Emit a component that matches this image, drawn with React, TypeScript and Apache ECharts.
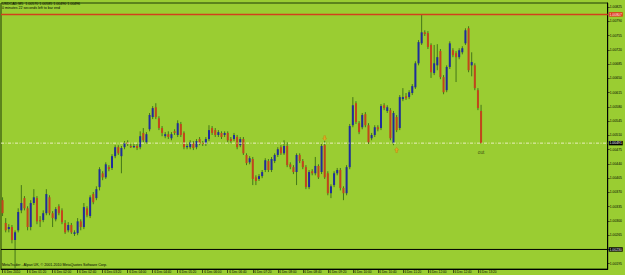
import React, { useEffect, useRef } from "react";
import * as echarts from "echarts";

const titleText = "USDCAD,M5  1.00570 1.00585 1.00490 1.00496";
const subtitleText = "0 minutes 22 seconds left to bar end";
const footerText = "MetaTrader - Alpari UK, \u00a9 2001-2010 MetaQuotes Software Corp.";

const timeLabels = [
  "6 Dec 2010", "6 Dec 01:20", "6 Dec 02:00", "6 Dec 02:40", "6 Dec 03:20",
  "6 Dec 04:00", "6 Dec 04:40", "6 Dec 05:20", "6 Dec 06:00", "6 Dec 06:40",
  "6 Dec 07:20", "6 Dec 08:00", "6 Dec 08:40", "6 Dec 09:20", "6 Dec 10:00",
  "6 Dec 10:40", "6 Dec 11:20", "6 Dec 12:00", "6 Dec 12:40", "6 Dec 13:20",
];
const barsPerLabel = 8;
const emptySlots = 40;

const opens = [
  1.00351, 1.00295, 1.0028, 1.00285, 1.00253, 1.00277, 1.00326, 1.00356, 1.00331, 1.00285,
  1.00344, 1.00356, 1.00302, 1.00302, 1.00319, 1.00358, 1.00319, 1.00304, 1.00336, 1.00326,
  1.00295, 1.00277, 1.0029, 1.00268, 1.0027, 1.00299, 1.00285, 1.00331, 1.00312, 1.00366,
  1.00356, 1.00383, 1.00417, 1.00407, 1.00432, 1.0043, 1.00459, 1.00481, 1.00459, 1.00481,
  1.00493, 1.00484, 1.00481, 1.00484, 1.00481, 1.00516, 1.00493, 1.00525, 1.00555, 1.00579,
  1.00552, 1.00528, 1.00508, 1.00513, 1.00503, 1.0052, 1.00511, 1.00538, 1.00516, 1.00481,
  1.00481, 1.00491, 1.00481, 1.00501, 1.00491, 1.00489, 1.00501, 1.00528, 1.00523, 1.00511,
  1.00516, 1.00511, 1.00516, 1.00501, 1.00501, 1.00506, 1.00486, 1.00501, 1.00462, 1.00444,
  1.00452, 1.00407, 1.00403, 1.0041, 1.00425, 1.00447, 1.00425, 1.00447, 1.00462, 1.00481,
  1.00466, 1.00484, 1.00439, 1.00432, 1.0042, 1.00462, 1.00447, 1.00432, 1.00383, 1.00422,
  1.00417, 1.00435, 1.0042, 1.00486, 1.00417, 1.00368, 1.00388, 1.00417, 1.00425, 1.00381,
  1.00368, 1.00432, 1.00535, 1.00589, 1.0054, 1.0053, 1.00562, 1.00535, 1.00503, 1.00511,
  1.0053, 1.00528, 1.00584, 1.0057, 1.00572, 1.00491, 1.00555, 1.00528, 1.00599, 1.00606,
  1.00604, 1.00614, 1.00628, 1.00687, 1.00736, 1.00763, 1.00761, 1.00732, 1.00663, 1.00682,
  1.00717, 1.00653, 1.00621, 1.00678, 1.00719, 1.00712, 1.00702, 1.00714, 1.00736, 1.00773,
  1.00682, 1.00682, 1.00621, 1.0057,
];
const closes = [
  1.00319, 1.00277, 1.00285, 1.00253, 1.00272, 1.00322, 1.00344, 1.00331, 1.00285, 1.00344,
  1.00358, 1.00299, 1.00299, 1.00319, 1.00366, 1.00319, 1.00307, 1.00329, 1.00319, 1.00297,
  1.00272, 1.0029, 1.00272, 1.00272, 1.00299, 1.00285, 1.00334, 1.00314, 1.00358, 1.00346,
  1.00378, 1.00427, 1.00407, 1.00439, 1.00427, 1.00459, 1.00481, 1.00466, 1.00479, 1.00491,
  1.00489, 1.00481, 1.00484, 1.00479, 1.00508, 1.00498, 1.00513, 1.0056, 1.00577, 1.00555,
  1.00528, 1.00516, 1.00513, 1.00506, 1.00513, 1.00516, 1.0054, 1.00511, 1.00481, 1.00484,
  1.00493, 1.00479, 1.00496, 1.00491, 1.00489, 1.00501, 1.00523, 1.00516, 1.00511, 1.00518,
  1.00506, 1.00516, 1.00498, 1.00496, 1.00511, 1.00481, 1.00501, 1.00466, 1.00442, 1.00454,
  1.00403, 1.00398, 1.0041, 1.0042, 1.00449, 1.00425, 1.00452, 1.00462, 1.00476, 1.00466,
  1.00484, 1.00437, 1.00432, 1.0042, 1.00462, 1.00447, 1.00432, 1.00383, 1.0042, 1.00417,
  1.00435, 1.00407, 1.00484, 1.00407, 1.00368, 1.00385, 1.00417, 1.00425, 1.00381, 1.00368,
  1.00432, 1.00533, 1.00584, 1.00543, 1.00518, 1.0056, 1.00535, 1.00493, 1.00511, 1.0053,
  1.00525, 1.00582, 1.00577, 1.00579, 1.00503, 1.00565, 1.00523, 1.00604, 1.00604, 1.00601,
  1.00616, 1.00631, 1.00687, 1.00739, 1.00763, 1.00759, 1.00727, 1.00665, 1.00687, 1.00702,
  1.00653, 1.00616, 1.00678, 1.00736, 1.00707, 1.00702, 1.00719, 1.00724, 1.00768, 1.0067,
  1.0069, 1.00626, 1.00577, 1.00491,
];
const lows = [
  1.00312, 1.00272, 1.00272, 1.00245, 1.00183, 1.00272, 1.00319, 1.00326, 1.00277, 1.00277,
  1.00339, 1.00292, 1.00285, 1.00297, 1.00314, 1.00314, 1.00285, 1.00299, 1.00314, 1.00292,
  1.00268, 1.00272, 1.00268, 1.00263, 1.00265, 1.00277, 1.0028, 1.00309, 1.00307, 1.00341,
  1.00351, 1.00375, 1.004, 1.00403, 1.00422, 1.00425, 1.00454, 1.00462, 1.00417, 1.00476,
  1.00484, 1.00479, 1.00479, 1.00474, 1.00476, 1.00493, 1.00489, 1.0052, 1.0055, 1.0055,
  1.00523, 1.00508, 1.00503, 1.00501, 1.00498, 1.00511, 1.00506, 1.00506, 1.00476, 1.00476,
  1.00476, 1.00474, 1.00476, 1.00486, 1.00484, 1.00484, 1.00496, 1.00511, 1.00506, 1.00506,
  1.00501, 1.00506, 1.00493, 1.00491, 1.00496, 1.00476, 1.00481, 1.00462, 1.00437, 1.00439,
  1.00388, 1.00388, 1.00398, 1.00405, 1.0042, 1.0042, 1.0042, 1.00442, 1.00457, 1.00462,
  1.00462, 1.00432, 1.00427, 1.00415, 1.00388, 1.00442, 1.00427, 1.00378, 1.00378, 1.00412,
  1.00412, 1.00403, 1.00415, 1.00403, 1.00363, 1.00356, 1.00383, 1.00412, 1.00375, 1.00351,
  1.00363, 1.00427, 1.0053, 1.00538, 1.00513, 1.00525, 1.0053, 1.00489, 1.00498, 1.00506,
  1.0052, 1.00523, 1.00572, 1.00565, 1.00498, 1.00486, 1.00518, 1.00523, 1.00594, 1.00597,
  1.00599, 1.00609, 1.00624, 1.00682, 1.00732, 1.00754, 1.00722, 1.00651, 1.00658, 1.0067,
  1.00648, 1.00611, 1.00616, 1.00673, 1.00702, 1.00641, 1.00697, 1.00709, 1.00732, 1.00665,
  1.00655, 1.00621, 1.00572, 1.0049,
];
const highs = [
  1.00358, 1.00307, 1.00292, 1.0029, 1.00277, 1.00331, 1.00388, 1.00361, 1.00336, 1.00351,
  1.00378, 1.00361, 1.00312, 1.00326, 1.00378, 1.00363, 1.00324, 1.00334, 1.00341, 1.00331,
  1.00302, 1.00297, 1.00295, 1.00277, 1.00307, 1.00304, 1.00344, 1.00336, 1.00363, 1.00371,
  1.00385, 1.00432, 1.00422, 1.00444, 1.00437, 1.00464, 1.00486, 1.00486, 1.00484, 1.00496,
  1.00498, 1.00489, 1.00489, 1.00489, 1.0052, 1.00528, 1.00518, 1.00565, 1.00582, 1.00589,
  1.00557, 1.00533, 1.00518, 1.0052, 1.00518, 1.00525, 1.00547, 1.00543, 1.0052, 1.00489,
  1.00498, 1.00496, 1.00501, 1.00506, 1.00496, 1.00506, 1.00535, 1.00533, 1.00528, 1.00523,
  1.0052, 1.0052, 1.0052, 1.00506, 1.00516, 1.00511, 1.00506, 1.00506, 1.00466, 1.00459,
  1.00457, 1.00412, 1.00415, 1.00425, 1.00454, 1.00452, 1.00457, 1.00466, 1.00481, 1.00486,
  1.00498, 1.00493, 1.00444, 1.00437, 1.00466, 1.00466, 1.00452, 1.00437, 1.00425, 1.00427,
  1.00457, 1.00439, 1.00489, 1.00496, 1.00422, 1.0039, 1.00422, 1.0043, 1.0043, 1.00385,
  1.00437, 1.00538, 1.00604, 1.00594, 1.00545, 1.00565, 1.00567, 1.0054, 1.00516, 1.00535,
  1.00535, 1.00587, 1.00589, 1.00584, 1.00577, 1.0057, 1.0056, 1.00609, 1.00626, 1.00614,
  1.00621, 1.00636, 1.00692, 1.00744, 1.00807, 1.00768, 1.00766, 1.00736, 1.00732, 1.00734,
  1.00722, 1.00658, 1.00682, 1.00741, 1.00724, 1.00717, 1.00724, 1.00729, 1.00773, 1.00778,
  1.00714, 1.00687, 1.00626, 1.00585,
];

const priceTicks = [
  1.00195, 1.0023, 1.00265, 1.003, 1.00335, 1.0037, 1.00405, 1.0044, 1.00475, 1.0051,
  1.00545, 1.0058, 1.00615, 1.0065, 1.00685, 1.0072, 1.00755, 1.0079, 1.00825,
];
const levelPrices = [1.00807, 1.00491, 1.0023];
const levelKinds = ["resistance", "bid", "support"];
const arrowMarks = [
  { bar: 103, price: 1.00503, dir: "down" },
  { bar: 126, price: 1.00474, dir: "up" },
];
const outMark = { bar: 153, price: 1.00469, text: "out" };

const FONT = "'Liberation Sans', Arial, sans-serif";
const BG = "#9ACD32";
const BULL = "#1e2c9c";
const BEAR = "#c2451c";
const WICK = "#44761a";

const levelStyles: Record<string, any> = {
  resistance: { stroke: "#d2401c", width: 1.5, dash: null, boxFill: "#e0301a" },
  bid: { stroke: "#ecefbe", width: 1, dash: [3, 1.5, 1, 1.5], boxFill: "#000" },
  support: { stroke: "#000", width: 1, dash: null, boxFill: "#000" },
};

const UP_ARROW = "path://M5,0 L10,5 L7,5 L7,10 L3,10 L3,5 L0,5 Z";
const DOWN_ARROW = "path://M3,0 L7,0 L7,5 L10,5 L5,10 L0,5 L3,5 Z";

export default function App() {
  const ref = useRef<HTMLDivElement>(null);
  useEffect(() => {
    document.body.style.margin = "0";
    const chart = echarts.init(ref.current!, null, { renderer: "svg" });
    const n = opens.length;
    const total = n + emptySlots;
    const cats = Array.from({ length: total }, (_, i) => String(i));
    const candles = opens.map((o, i) => [i, o, closes[i], lows[i], highs[i]]);
    const showIdx = (idx: number) => idx % barsPerLabel === 0 && idx < n;
    const hidden = levelPrices;

    const option: any = {
      animation: false,
      backgroundColor: BG,
      textStyle: { fontFamily: FONT },
      grid: {
        left: 1,
        right: 15,
        top: 3,
        bottom: 6,
        show: true,
        borderColor: "#1e3a06",
        borderWidth: 1,
        backgroundColor: "transparent",
      },
      xAxis: {
        type: "category",
        data: cats,
        boundaryGap: true,
        axisLine: { show: true, lineStyle: { color: "#000", width: 1 } },
        axisTick: {
          show: true,
          alignWithLabel: true,
          interval: (idx: number) => showIdx(idx),
          length: 4,
          lineStyle: { color: "#000", width: 0.6 },
        },
        axisLabel: {
          show: true,
          interval: (idx: number) => showIdx(idx),
          formatter: (_v: string, idx: number) =>
            idx % barsPerLabel === 0 ? timeLabels[idx / barsPerLabel] ?? "" : "",
          fontSize: 3.2,
          fontFamily: FONT,
          color: "#000",
          align: "left",
          margin: 1,
          padding: [0, 0, 0, 1.5],
        },
        splitLine: { show: false },
      },
      yAxis: {
        type: "value",
        position: "right",
        min: 1.00182,
        max: 1.00835,
        axisLine: { show: true, lineStyle: { color: "#000", width: 1 } },
        axisTick: {
          show: true,
          length: 2,
          customValues: priceTicks,
          lineStyle: { color: "#000", width: 0.6 },
        },
        axisLabel: {
          show: true,
          customValues: priceTicks,
          formatter: (v: number) =>
            hidden.some((h) => Math.abs(h - v) < 1e-7) ? "" : v.toFixed(5),
          fontSize: 3.4,
          fontFamily: FONT,
          color: "#000",
          margin: 2,
        },
        splitLine: { show: false },
      },
      graphic: [
        { type: "text", left: 2, top: 2.2, style: { text: titleText, fontSize: 3.6, fontFamily: FONT, fill: "#000" } },
        { type: "text", left: 2, top: 5.8, style: { text: subtitleText, fontSize: 3.6, fontFamily: FONT, fill: "#000" } },
        { type: "text", left: 2, top: 262.6, style: { text: footerText, fontSize: 3.6, fontFamily: FONT, fill: "#000" } },
      ],
      series: [
        {
          type: "custom",
          name: "USDCAD",
          data: candles,
          encode: { x: 0, y: [1, 2, 3, 4] },
          renderItem: (_params: any, api: any) => {
            const i = api.value(0);
            const o = api.value(1);
            const c = api.value(2);
            const l = api.value(3);
            const h = api.value(4);
            const pO = api.coord([i, o]);
            const pC = api.coord([i, c]);
            const pL = api.coord([i, l]);
            const pH = api.coord([i, h]);
            const x = pO[0];
            const w = 2;
            const y1 = Math.min(pO[1], pC[1]);
            const hh = Math.max(Math.abs(pO[1] - pC[1]), 1);
            return {
              type: "group",
              children: [
                {
                  type: "line",
                  shape: { x1: x, y1: pH[1], x2: x, y2: pL[1] },
                  style: { stroke: WICK, lineWidth: 1 },
                },
                {
                  type: "rect",
                  shape: { x: x - w / 2, y: y1, width: w, height: hh },
                  style: { fill: c >= o ? BULL : BEAR },
                },
              ],
            };
          },
        },
        {
          type: "custom",
          name: "levels",
          clip: false,
          z: 4,
          data: levelPrices.map((p, k) => [0, p, k]),
          encode: { x: 0, y: 1 },
          renderItem: (params: any, api: any) => {
            const price = api.value(1);
            const kind = levelKinds[api.value(2)];
            const st = levelStyles[kind];
            const y = api.coord([0, price])[1];
            const cs = params.coordSys;
            const x0 = cs.x;
            const x1 = cs.x + cs.width;
            return {
              type: "group",
              children: [
                {
                  type: "line",
                  shape: { x1: x0, y1: y, x2: x1, y2: y },
                  style: { stroke: st.stroke, lineWidth: st.width, lineDash: st.dash },
                },
                {
                  type: "rect",
                  shape: { x: x1 + 1, y: y - 2.2, width: 14, height: 4.4 },
                  style: { fill: st.boxFill },
                },
                {
                  type: "text",
                  x: x1 + 1.8,
                  y: y + 0.2,
                  style: {
                    text: price.toFixed(5),
                    fill: "#fff",
                    fontSize: 3.4,
                    fontFamily: FONT,
                    verticalAlign: "middle",
                    align: "left",
                  },
                },
              ],
            };
          },
        },
        {
          type: "scatter",
          name: "arrows",
          data: arrowMarks.map((a) => ({
            value: [a.bar, a.price],
            symbol: a.dir === "up" ? UP_ARROW : DOWN_ARROW,
          })),
          symbolSize: [4, 5],
          itemStyle: { color: "#f2a424", borderColor: "#c86a00", borderWidth: 0.4 },
          z: 5,
        },
        {
          type: "scatter",
          name: "out",
          data: [[outMark.bar, outMark.price]],
          symbolSize: 1,
          itemStyle: { color: "rgba(0,0,0,0)" },
          label: {
            show: true,
            position: "inside",
            formatter: outMark.text,
            fontSize: 4.8,
            fontFamily: FONT,
            color: "#1a2a08",
          },
          z: 5,
        },
      ],
    };
    chart.setOption(option);
    return () => chart.dispose();
  }, []);
  return <div ref={ref} style={{ width: 625, height: 275 }} />;
}
